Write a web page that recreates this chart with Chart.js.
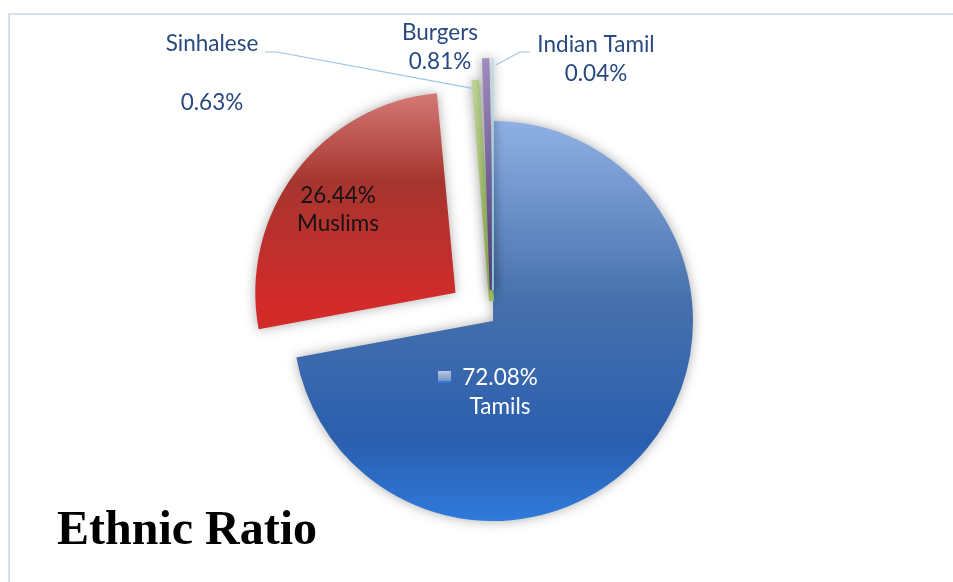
<!DOCTYPE html>
<html><head><meta charset="utf-8">
<script src="https://cdn.jsdelivr.net/npm/chart.js@4"></script>
<style>
html,body{margin:0;padding:0;background:#fff;}
#wrap{position:relative;width:953px;height:582px;overflow:hidden;background:#fff;}
#frame{position:absolute;left:8px;top:13px;right:-4px;bottom:-4px;border-top:2px solid #D6E0F1;border-left:2px solid #D6E0F1;}
canvas{position:absolute;left:0;top:0;}
</style></head><body>
<div id="wrap"><div id="frame"></div><canvas id="c" width="953" height="582"></canvas></div>
<script>
// ---- data ----
const categories = ['Tamils', 'Muslims', 'Sinhalese', 'Burgers', 'Indian Tamil'];
const shares = [72.08, 26.44, 0.63, 0.81, 0.04];
const percentLabels = ['72.08%', '26.44%', '0.63%', '0.81%', '0.04%'];
const chartTitle = 'Ethnic Ratio';

// ---- styling ----
// Chart.js v4 translates an arc by offset/4 (and grows thin arcs by the same amount)
const explode = [0, 188, 80, 124, 124];
const sliceBorder = [0, 0, 5, 5, 2];
const fallback = ['#3F66A3', '#A8332F', '#B3CF86', '#7E67A8', '#9FCFE0'];
const gradSpec = [
  {top: -200, bottom: 200, stops: [[0, '#8FB0E4'], [0.45, '#4670AC'], [0.8, '#2A5FAF'], [1, '#2F7ADB']]},
  {top: -230, bottom: 8, stops: [[0, '#E4908D'], [0.5, '#A6352F'], [1, '#D22B2A']]},
  {top: -242, bottom: -22, stops: [[0, '#C3DA9C'], [1, '#9CBD5C']]},
  {top: -264, bottom: -32, stops: [[0, '#AE9BCD'], [1, '#5A4584']]},
  {top: -264, bottom: -32, stops: [[0, '#C4E3EE'], [1, '#8CC7DA']]}
];
const labelFont = '22.5px Lato, "Noto Sans", sans-serif';
const labelLayout = [
  {lines: [[percentLabels[0], 500, 378], [categories[0], 500, 407]], color: '#FFFFFF', key: true},
  {lines: [[percentLabels[1], 338, 196], [categories[1], 338, 224]], color: '#141414'},
  {lines: [[categories[2], 212, 44], [percentLabels[2], 212, 103]], color: '#284A80', leader: [[265, 52], [277, 52]]},
  {lines: [[categories[3], 440, 33], [percentLabels[3], 440, 62]], color: '#284A80'},
  {lines: [[categories[4], 596, 45], [percentLabels[4], 596, 74]], color: '#284A80', leader: [[530, 52], [520, 52]]}
];

function fillFor(context) {
  const i = context.dataIndex;
  const ch = context.chart;
  const ca = ch.chartArea;
  if (i === undefined) return fallback[0];
  if (!ca) return fallback[i];
  const cy = (ca.top + ca.bottom) / 2;
  const g = ch.ctx.createLinearGradient(0, cy + gradSpec[i].top, 0, cy + gradSpec[i].bottom);
  gradSpec[i].stops.forEach(s => g.addColorStop(s[0], s[1]));
  return g;
}

const shadowPlugin = {
  id: 'softShadow',
  beforeDatasetsDraw(chart) {
    const c = chart.ctx; c.save();
    c.shadowColor = 'rgba(0,0,0,0.33)'; c.shadowBlur = 12; c.shadowOffsetX = 0; c.shadowOffsetY = 0;
  },
  afterDatasetsDraw(chart) { chart.ctx.restore(); }
};

function arcTip(arc, i) {
  const mid = (arc.startAngle + arc.endAngle) / 2;
  const circ = arc.endAngle - arc.startAngle;
  const t = explode[i] / 4;
  const fix = 1 - Math.sin(Math.min(Math.PI, circ));
  const r = arc.outerRadius + t * fix + t;
  return [arc.x + Math.cos(mid) * r, arc.y + Math.sin(mid) * r];
}

const labelPlugin = {
  id: 'sliceLabels',
  afterDraw(chart) {
    const c = chart.ctx;
    const meta = chart.getDatasetMeta(0);
    c.save();
    c.font = labelFont;
    c.textAlign = 'center';
    c.textBaseline = 'middle';
    labelLayout.forEach((L, i) => {
      const arc = meta.data[i];
      if (L.leader && arc) {
        const p = arcTip(arc, i);
        c.strokeStyle = '#9DC3E6'; c.lineWidth = 1.2;
        c.beginPath();
        c.moveTo(L.leader[0][0], L.leader[0][1]);
        c.lineTo(L.leader[1][0], L.leader[1][1]);
        c.lineTo(p[0] + (i === 2 ? -3 : 3), p[1] + 6);
        c.stroke();
      }
      if (L.key) {
        const kx = 438, ky = 371;
        const g = c.createLinearGradient(0, ky, 0, ky + 11);
        g.addColorStop(0, '#B9C7DE'); g.addColorStop(1, '#6E8FC2');
        c.fillStyle = g; c.fillRect(kx, ky, 13, 10);
        c.fillStyle = '#2F78D8'; c.fillRect(kx, ky + 10, 13, 2);
      }
      c.fillStyle = L.color;
      L.lines.forEach(l => c.fillText(l[0], l[1], l[2]));
    });
    c.restore();
  }
};

new Chart(document.getElementById('c'), {
  type: 'pie',
  data: {
    labels: categories,
    datasets: [{
      data: shares,
      backgroundColor: fillFor,
      borderColor: fillFor,
      borderWidth: sliceBorder,
      borderAlign: 'center',
      borderJoinStyle: 'miter',
      offset: explode,
      radius: 200,
      clip: false
    }]
  },
  options: {
    responsive: false,
    devicePixelRatio: 1,
    animation: false,
    rotation: 0,
    layout: {padding: {left: 57, right: 24, top: 139.6, bottom: 0}},
    plugins: {
      legend: {display: false},
      tooltip: {enabled: false},
      title: {
        display: true, text: chartTitle, position: 'bottom', align: 'start', color: '#000000',
        font: {family: '"Liberation Serif", "Times New Roman", serif', size: 48, weight: 'bold', lineHeight: 1.2},
        padding: {top: 0, bottom: 22}
      }
    }
  },
  plugins: [shadowPlugin, labelPlugin]
});
</script>
</body></html>
